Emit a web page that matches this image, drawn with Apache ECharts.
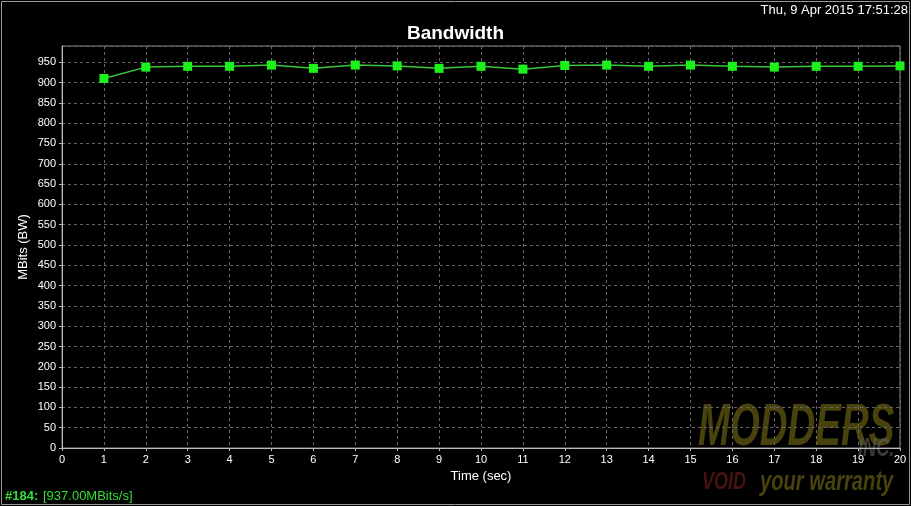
<!DOCTYPE html>
<html>
<head>
<meta charset="utf-8">
<script src="https://cdn.jsdelivr.net/npm/echarts@6/dist/echarts.min.js"></script>
<style>
html,body{margin:0;padding:0;background:#000;}
#chart{width:911px;height:506px;}
</style>
</head>
<body>
<div id="chart"></div>
<script>
// Data
var timeSec = [1,2,3,4,5,6,7,8,9,10,11,12,13,14,15,16,17,18,19,20];
var bandwidth = [910,938,940,940,943,935,943,941,935,940,933,942,943,940,943,940,938,940,940,941];
var titleText = 'Bandwidth';
var dateText = 'Thu, 9 Apr 2015 17:51:28';
var statusId = '#184:';
var statusValue = '[937.00MBits/s]';
var yAxisName = 'MBits (BW)';

var points = timeSec.map(function(t,i){ return [t, bandwidth[i]]; });

var chart = echarts.init(document.getElementById('chart'));
var font = 'Liberation Sans';
chart.setOption({
  backgroundColor: '#000',
  animation: false,
  title: {
    text: titleText,
    left: 'center',
    top: 19,
    textStyle: {color: '#fff', fontSize: 19, fontWeight: 'bold', fontFamily: font}
  },
  grid: {left: 62, right: 11, top: 46, bottom: 58, show: true, borderColor: '#8a8a8a', borderWidth: 1, backgroundColor: 'transparent'},
  xAxis: {
    type: 'value', min: 0, max: 20, interval: 1,
    name: 'Time (sec)', nameLocation: 'middle', nameGap: 22,
    nameTextStyle: {color: '#fff', fontSize: 13, fontFamily: font},
    axisLine: {lineStyle: {color: '#bbb'}},
    axisTick: {show: true, length: 3, inside: false, lineStyle: {color: '#bbb'}},
    axisLabel: {color: '#fff', fontSize: 11, fontFamily: font, margin: 6},
    splitLine: {show: true, lineStyle: {color: '#666', type: [3,3], width: 1}}
  },
  yAxis: {
    type: 'value', min: 0, max: 990, interval: 50,
    axisLine: {show: true, lineStyle: {color: '#bbb'}},
    axisTick: {show: true, length: 3, lineStyle: {color: '#bbb'}},
    axisLabel: {color: '#fff', fontSize: 11, fontFamily: font, margin: 6, showMaxLabel: false},
    splitLine: {show: true, lineStyle: {color: '#666', type: [3,3], width: 1}}
  },
  series: [{
    type: 'line',
    data: points,
    symbol: 'rect',
    symbolSize: 9,
    itemStyle: {color: '#1bf21b'},
    lineStyle: {color: '#3cc83c', width: 1.5},
    clip: false
  }],
  graphic: [
    {type: 'rect', shape: {x: 1.5, y: 1.5, width: 908, height: 503}, style: {fill: 'none', stroke: '#9a9a9a', lineWidth: 1}},
    {type: 'text', x: 23, y: 247, rotation: Math.PI / 2, style: {text: yAxisName, fill: '#fff', font: '13px ' + font, align: 'center', verticalAlign: 'middle'}},
    {type: 'text', right: 3, top: 4, style: {text: dateText, fill: '#fff', font: '13px ' + font}},
    {type: 'text', left: 5, top: 490, style: {text: statusId, fill: '#33dd33', font: 'bold 13px ' + font}},
    {type: 'text', left: 43, top: 490, style: {text: statusValue, fill: '#33dd33', font: '13px ' + font}},
    {type: 'text', x: 698, y: 398, scaleX: 0.64, style: {text: 'MODDERS', fill: 'rgba(120,110,20,0.6)', font: 'italic bold 60px ' + font}},
    {type: 'text', x: 858, y: 436, scaleX: 0.7, style: {text: 'INC.', fill: 'rgba(95,95,95,0.6)', font: 'italic bold 26px ' + font}},
    {type: 'text', x: 702, y: 470, scaleX: 0.75, style: {text: 'VOID', fill: 'rgba(120,30,30,0.6)', font: 'italic bold 24px ' + font}},
    {type: 'text', x: 760, y: 468, scaleX: 0.72, style: {text: 'your warranty', fill: 'rgba(120,110,20,0.6)', font: 'italic bold 28px ' + font}}
  ]
});
</script>
</body>
</html>
